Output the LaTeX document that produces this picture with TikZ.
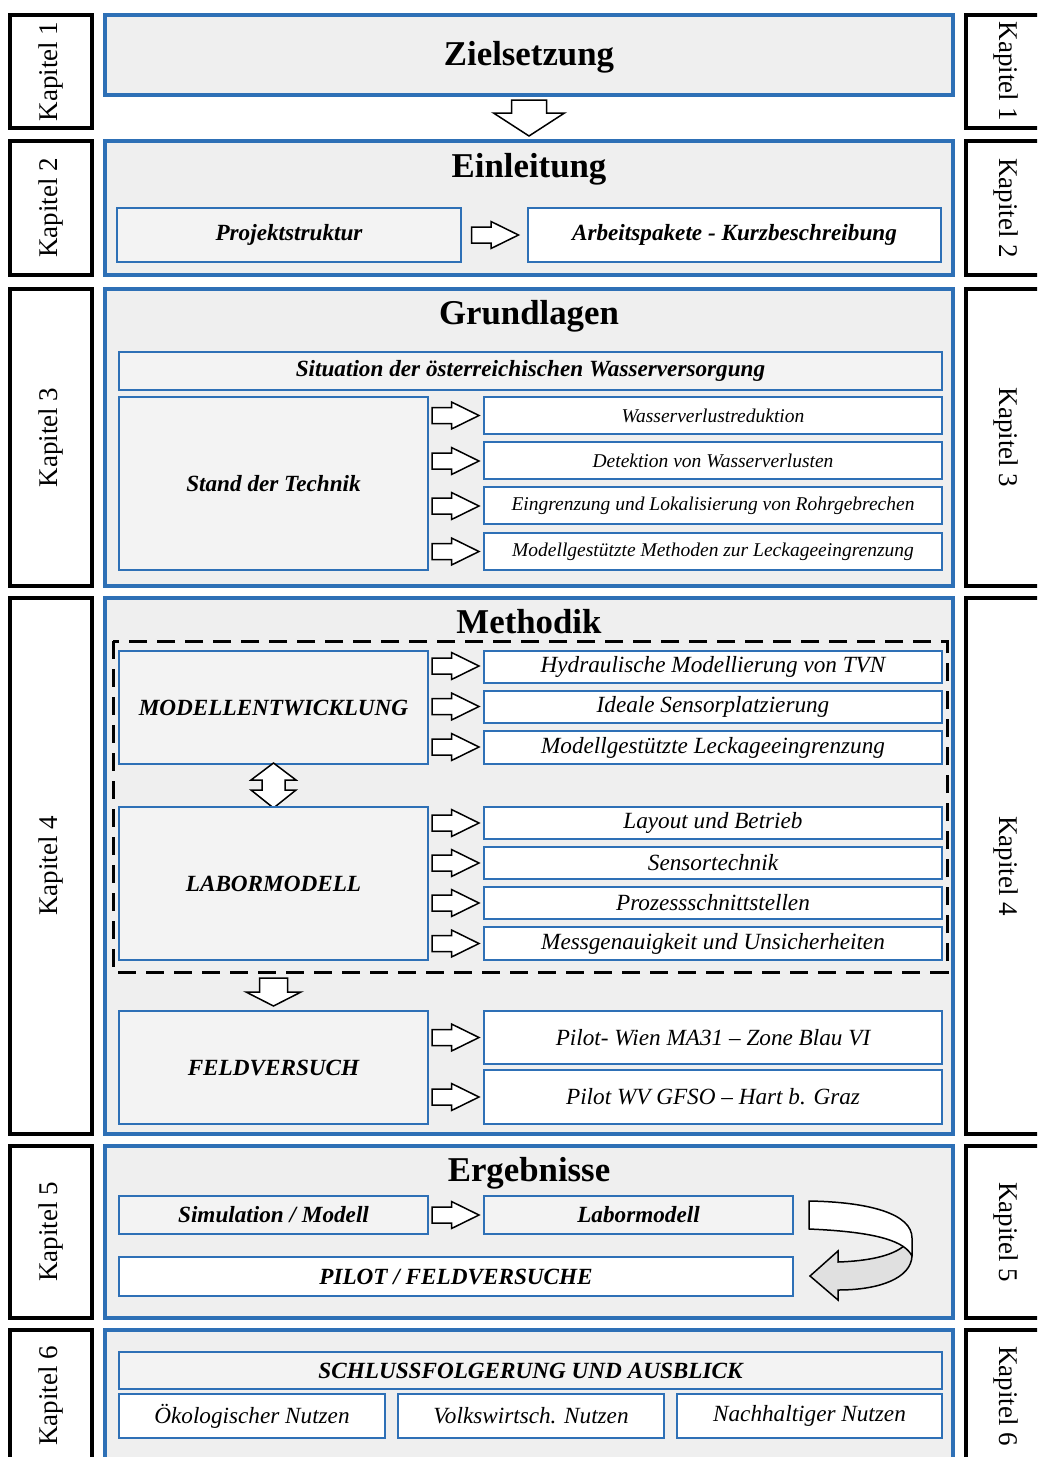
\documentclass[tikz,border=0pt]{standalone}
\usepackage{fontspec}
\setmainfont{Liberation Serif}
\usepackage{graphicx}
\definecolor{myblue}{RGB}{46,112,182}
\definecolor{mainfill}{RGB}{239,239,239}
\definecolor{subfill}{RGB}{243,243,243}
\definecolor{curvgray}{RGB}{224,224,224}
\newcommand\bx[7]{\node[#1, minimum width={(#5)-(#3)}, minimum height={(#6)-(#4)}] (#2) at ({((#3)+(#5))/2},{((#4)+(#6))/2+1.5}) {#7};}
\newcommand\fsz[1]{\fontsize{#1}{#1}\selectfont}
\tikzset{
  mainbox/.style={draw=myblue, line width=3.5pt, fill=mainfill, inner sep=0pt, outer sep=0pt},
  kapbox/.style={draw=black, line width=4pt, fill=white, inner sep=0pt, outer sep=0pt, font=\fsz{27}},
  gbox/.style={draw=myblue, line width=2.5pt, fill=subfill, inner sep=0pt, outer sep=0pt, font=\fsz{23.2}\bfseries\itshape},
  wbox/.style={draw=myblue, line width=2.5pt, fill=white, inner sep=0pt, outer sep=0pt, font=\fsz{23.2}\itshape},
  wsmall/.style={wbox, font=\fsz{19.5}\itshape},
  wbold/.style={wbox, font=\fsz{23.2}\bfseries\itshape},
  title/.style={anchor=base, inner sep=0pt, font=\fsz{34.8}\bfseries},
  blockarrow/.style={draw=black, line width=1.5pt, fill=white, line join=miter},
  pics/rarr/.style={code={\draw[blockarrow] (-23.5,-8) -- (-4,-8) -- (-4,-13.5) -- (23.5,0) -- (-4,13.5) -- (-4,8) -- (-23.5,8) -- cycle;}},
}
\begin{document}
\begin{tikzpicture}[x=1pt,y=-1pt]
\useasboundingbox (0,0) rectangle (1037,1457);
\clip (0,0) rectangle (1037,1457);
\fill[white] (0,0) rectangle (1037,1457);

% Kapitel boxes left
\bx{kapbox}{kl1}{10}{13.5}{92}{126.5}{\rotatebox{90}{Kapitel 1}}
\bx{kapbox}{kl2}{10}{139.5}{92}{273.5}{\rotatebox{90}{Kapitel 2}}
\bx{kapbox}{kl3}{10}{287.5}{92}{584.5}{\rotatebox{90}{Kapitel 3}}
\bx{kapbox}{kl4}{10}{596.5}{92}{1132.5}{\rotatebox{90}{Kapitel 4}}
\bx{kapbox}{kl5}{10}{1144.5}{92}{1316.5}{\rotatebox{90}{Kapitel 5}}
\bx{kapbox}{kl6}{10}{1328.5}{92}{1460.5}{\rotatebox{90}{Kapitel 6}}
% Kapitel boxes right
\bx{kapbox}{kr1}{966}{13.5}{1045}{126.5}{\rotatebox{-90}{Kapitel 1}}
\bx{kapbox}{kr2}{966}{139.5}{1045}{273.5}{\rotatebox{-90}{Kapitel 2}}
\bx{kapbox}{kr3}{966}{287.5}{1045}{584.5}{\rotatebox{-90}{Kapitel 3}}
\bx{kapbox}{kr4}{966}{596.5}{1045}{1132.5}{\rotatebox{-90}{Kapitel 4}}
\bx{kapbox}{kr5}{966}{1144.5}{1045}{1316.5}{\rotatebox{-90}{Kapitel 5}}
\bx{kapbox}{kr6}{966}{1328.5}{1045}{1460.5}{\rotatebox{-90}{Kapitel 6}}

% Main boxes
\bx{mainbox}{ziel}{105}{13.5}{953}{93.5}{}
\bx{mainbox}{einl}{105}{139.5}{953}{273.5}{}
\bx{mainbox}{grund}{105}{287.5}{953}{584.5}{}
\bx{mainbox}{meth}{105}{596.5}{953}{1132.5}{}
\bx{mainbox}{erg}{105}{1144.5}{953}{1316.5}{}
\bx{mainbox}{schl}{105}{1328.5}{953}{1470.5}{}

% Titles
\node[title] (tziel) at (529,65) {Zielsetzung};
\node[title] (teinl) at (529,177) {Einleitung};
\node[title] (tgrund) at (529,324) {Grundlagen};
\node[title] (tmeth) at (529,633) {Methodik};
\node[title] (terg) at (529,1181) {Ergebnisse};

% Zielsetzung -> Einleitung arrow
\draw[blockarrow] (511.5,100) -- (546.5,100) -- (546.5,113) -- (564.5,113) -- (529,136) -- (493.5,113) -- (511.5,113) -- cycle;

% Einleitung
\bx{gbox}{proj}{117}{206.5}{461}{260.5}{Projektstruktur}
\bx{wbold}{arb}{528}{206.5}{941}{260.5}{Arbeitspakete - Kurzbeschreibung}
\pic at (495,235) {rarr};

% Grundlagen
\bx{gbox}{sit}{119}{350.5}{942}{388.5}{Situation der österreichischen Wasserversorgung}
\bx{gbox}{std}{119}{395.5}{428}{568.5}{Stand der Technik}
\bx{wsmall}{g1}{484}{395.5}{942}{432.5}{Wasserverlustreduktion}
\bx{wsmall}{g2}{484}{440.5}{942}{477.5}{Detektion von Wasserverlusten}
\bx{wsmall}{g3}{484}{485.5}{942}{522.5}{Eingrenzung und Lokalisierung von Rohrgebrechen}
\bx{wsmall}{g4}{484}{531.5}{942}{568.5}{Modellgestützte Methoden zur Leckageeingrenzung}
\foreach \yy in {415.5,461,506,551.5} {\pic at (455.5,\yy) {rarr};}

% Methodik
\draw[line width=3pt, dash pattern=on 18pt off 10pt] (113,641) rectangle (947,972);
\bx{gbox}{mod}{119}{649.5}{428}{762.5}{MODELLENTWICKLUNG}
\bx{wbox}{m1}{484}{649.5}{942}{681.5}{Hydraulische Modellierung von TVN}
\bx{wbox}{m2}{484}{689.5}{942}{721.5}{Ideale Sensorplatzierung}
\bx{wbox}{m3}{484}{729.5}{942}{762.5}{Modellgestützte Leckageeingrenzung}
\foreach \yy in {666,706.5,747} {\pic at (455.5,\yy) {rarr};}
\draw[blockarrow] (273.5,763) -- (296,780) -- (285,780) -- (285,790) -- (296,790) -- (273.5,808) -- (251,790) -- (262,790) -- (262,780) -- (251,780) -- cycle;
\bx{gbox}{lab}{119}{805.5}{428}{958.5}{LABORMODELL}
\bx{wbox}{l1}{484}{805.5}{942}{837.5}{Layout und Betrieb}
\bx{wbox}{l2}{484}{845.5}{942}{877.5}{Sensortechnik}
\bx{wbox}{l3}{484}{885.5}{942}{917.5}{Prozessschnittstellen}
\bx{wbox}{l4}{484}{925.5}{942}{958.5}{Messgenauigkeit und Unsicherheiten}
\foreach \yy in {823,863,903,943.5} {\pic at (455.5,\yy) {rarr};}
\draw[blockarrow] (259.5,978) -- (287.5,978) -- (287.5,992) -- (301,992) -- (273.5,1006) -- (246,992) -- (259.5,992) -- cycle;
\bx{gbox}{feld}{119}{1009.5}{428}{1122.5}{FELDVERSUCH}
\bx{wbox}{f1}{484}{1009.5}{942}{1062.5}{Pilot- Wien MA31 – Zone Blau VI}
\bx{wbox}{f2}{484}{1068.5}{942}{1122.5}{Pilot WV GFSO – Hart b. Graz}
\foreach \yy in {1037.5,1097} {\pic at (455.5,\yy) {rarr};}

% Ergebnisse
\bx{gbox}{sim}{119}{1194.5}{428}{1232.5}{Simulation / Modell}
\bx{gbox}{elab}{484}{1194.5}{793}{1232.5}{Labormodell}
\bx{wbold}{pil}{119}{1255.5}{793}{1294.5}{PILOT / FELDVERSUCHE}
\pic at (455.5,1215) {rarr};
% curved U-turn arrow
\draw[line width=1.5pt, fill=curvgray, line join=miter]
  (838,1262) .. controls (868,1261) and (893,1256) .. (905,1245)
  -- (912,1240) -- (912,1256)
  .. controls (911,1278) and (880,1290) .. (838,1290)
  -- (838,1300) -- (810,1276) -- (838,1251) -- cycle;
\draw[line width=1.5pt, fill=white, line join=round]
  (809,1201) .. controls (870,1202) and (912,1214) .. (912,1238)
  -- (912,1256)
  .. controls (905,1242) and (880,1232) .. (809,1229) -- cycle;

% Schlussfolgerung
\bx{gbox}{sch}{119}{1350.5}{942}{1387.5}{SCHLUSSFOLGERUNG UND AUSBLICK}
\bx{wbox}{s1}{119}{1392.5}{385}{1436.5}{Ökologischer Nutzen}
\bx{wbox}{s2}{398}{1392.5}{664}{1436.5}{Volkswirtsch. Nutzen}
\bx{wbox}{s3}{677}{1392.5}{942}{1436.5}{Nachhaltiger Nutzen}
\end{tikzpicture}
\end{document}
